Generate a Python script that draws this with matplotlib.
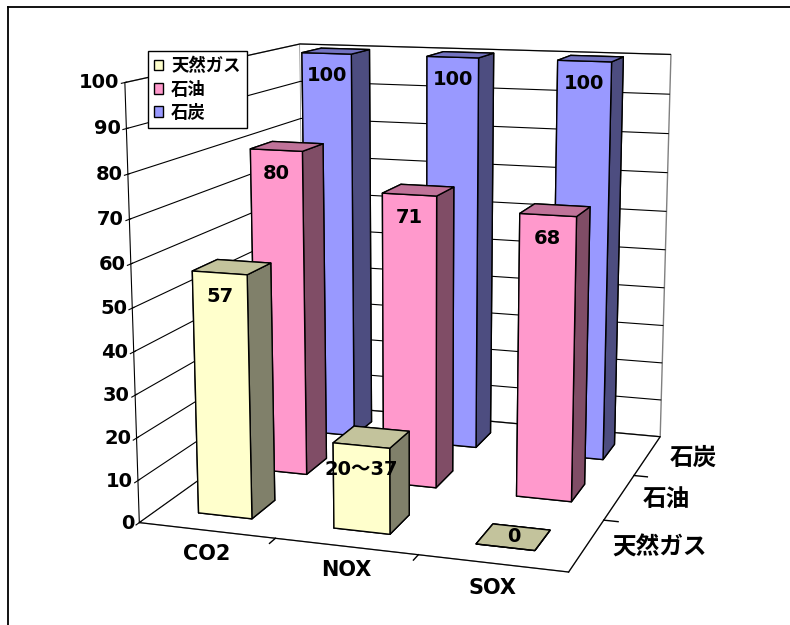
import numpy as np
import matplotlib.pyplot as plt
from matplotlib.lines import Line2D
from matplotlib.patches import Patch

plt.rcParams['font.family'] = ['DejaVu Sans', 'Noto Sans CJK JP']
plt.rcParams['font.weight'] = 'bold'

categories = ['CO2', 'NOX', 'SOX']
series = ['天然ガス', '石油', '石炭']
gas = [57, 20, 0]
oil = [80, 71, 68]
coal = [100, 100, 100]
values = [gas, oil, coal]
value_text = [['57', '20～37', '0'], ['80', '71', '68'], ['100', '100', '100']]

front_colors = ['#ffffcc', '#ff99cc', '#9999ff']
top_colors = ['#c3c39c', '#c07399', '#7373c0']
side_colors = ['#80806a', '#804d66', '#4d4d80']

fig = plt.figure(figsize=(7.9, 6.25), dpi=100)
ax = fig.add_axes([0.019, 0.0436, 1.0, 1.0], projection='3d', computed_zorder=False)
ax.set_proj_type('persp', focal_length=0.55)
ax.view_init(elev=12, azim=-72)
ax.set_box_aspect((1.1, 1.13, 1.1), zoom=1.135)
ax.set_xlim(0, len(categories))
ax.set_ylim(0, len(series))
ax.set_zlim(0, 100)

bw, bd = 0.4, 0.4
# back row first so nearer bars paint over farther ones
for j in reversed(range(len(series))):
    for i, v in enumerate(values[j]):
        x0 = i + 0.5 - bw / 2
        y0 = j + 0.5 - bd / 2
        # faces: bottom, top, front, back, left, right
        fc = [top_colors[j], top_colors[j], front_colors[j],
              front_colors[j], front_colors[j], side_colors[j]]
        ax.bar3d(x0, y0, 0, bw, bd, v, color=fc, shade=False,
                 edgecolor='black', linewidth=1.0, zorder=10 + (2 - j) * 3 + i)
        if v > 0:
            ax.text(i + 0.5, y0, v - 5.5, value_text[j][i], ha='center', va='center',
                    fontsize=14, fontweight='bold', zorder=50)
        else:
            ax.text(i + 0.5, j + 0.5, 0, value_text[j][i], ha='center', va='center',
                    fontsize=14, fontweight='bold', zorder=50)

# category names under the front edge, fuel names beside the right edge
for i, name in enumerate(categories):
    ax.text(i + 0.5, 0, -5.5, name, ha='center', va='center',
            fontsize=15, fontweight='bold', zorder=50)
for j, name in enumerate(series):
    ax.text(len(categories) + 0.17, j + 0.5, 0, name, ha='left', va='center',
            fontsize=17, fontweight='bold', zorder=50)

# boundary ticks on the floor edges
for b in range(1, len(categories)):
    ax.plot([b, b], [0, -0.1], [0, 0], color='black', lw=1, zorder=5)
for b in range(1, len(series)):
    ax.plot([len(categories), len(categories) + 0.1], [b, b], [0, 0], color='black', lw=1, zorder=5)

ax.set_xticks([])
ax.set_yticks([])
ax.set_zticks(range(0, 101, 10))
ax.tick_params(axis='z', labelsize=14, pad=-6)
ax.zaxis.set_ticks_position('lower')
for lbl in ax.get_zticklabels():
    lbl.set_horizontalalignment('right')
    lbl.set_verticalalignment('center')

for a in (ax.xaxis, ax.yaxis, ax.zaxis):
    a.set_pane_color((1, 1, 1, 1))
    a.pane.set_edgecolor('#808080')
    a.line.set_color('black')
ax.grid(True)
ax.xaxis._axinfo['grid'].update(linewidth=0)
ax.yaxis._axinfo['grid'].update(linewidth=0)
ax.zaxis._axinfo['grid'].update(color='black', linewidth=0.8)

handles = [Patch(facecolor=c, edgecolor='black', linewidth=1) for c in front_colors]
leg = fig.legend(handles, series, loc='upper left', bbox_to_anchor=(0.187, 0.918),
                 frameon=True, fancybox=False, edgecolor='black', framealpha=1,
                 handlelength=0.55, handleheight=0.55, handletextpad=0.45,
                 borderpad=0.35, labelspacing=0.3, fontsize=12.5, borderaxespad=0)
leg.set_zorder(100)

fig.add_artist(Line2D([8 / 790, 1], [618 / 625, 618 / 625], color='black', lw=1.3))
fig.add_artist(Line2D([8 / 790, 8 / 790], [0, 618 / 625], color='black', lw=1.3))

fig.savefig('out.png', dpi=100)
